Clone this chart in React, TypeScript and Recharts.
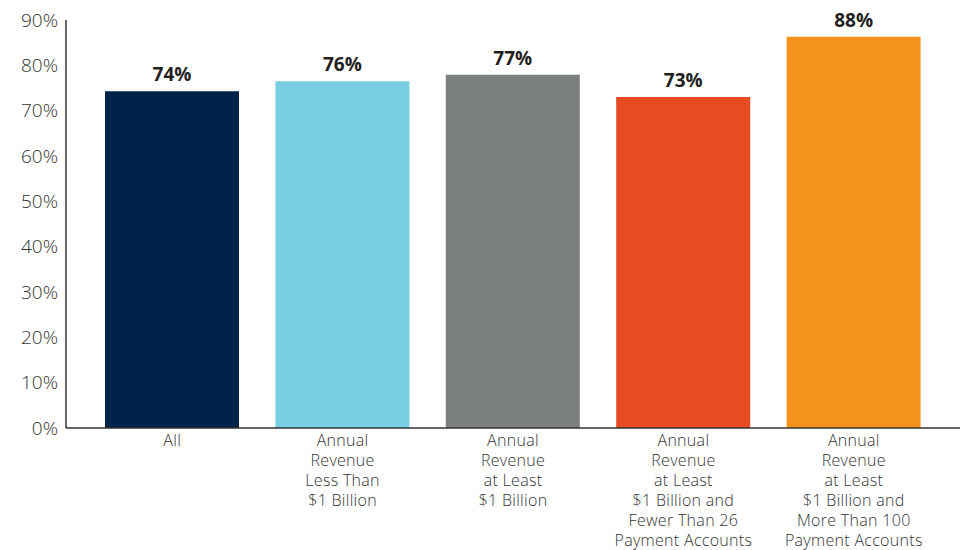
import { BarChart, Bar, XAxis, YAxis, Cell, LabelList } from "recharts";

const categories = [
  "All",
  "Annual\nRevenue\nLess Than\n$1 Billion",
  "Annual\nRevenue\nat Least\n$1 Billion",
  "Annual\nRevenue\nat Least\n$1 Billion and\nFewer Than 26\nPayment Accounts",
  "Annual\nRevenue\nat Least\n$1 Billion and\nMore Than 100\nPayment Accounts",
];
const values = [74.3, 76.5, 77.9, 73.0, 86.3];
const valueLabels = ["74%", "76%", "77%", "73%", "88%"];
const barColors = ["#00234a", "#79cfe2", "#7b807f", "#e64b22", "#f5921e"];
const yTicks = [0, 10, 20, 30, 40, 50, 60, 70, 80, 90];

const data = categories.map((name, i) => ({
  name,
  value: values[i],
  label: valueLabels[i],
}));

const FONT = "'Open Sans', sans-serif";

function CategoryTick(props: any) {
  const { x, y, payload } = props;
  const lines = String(payload.value).split("\n");
  return (
    <text
      x={x}
      y={y}
      textAnchor="middle"
      fill="#333333"
      fontSize={16}
      fontFamily={FONT}
      fontWeight={300}
      letterSpacing={0.3}
    >
      {lines.map((line, i) => (
        <tspan key={i} x={x} dy={i === 0 ? "0.62em" : 20}>
          {line}
        </tspan>
      ))}
    </text>
  );
}

export default function App() {
  return (
    <div style={{ position: "absolute", left: 0, top: 0, background: "#fff" }}>
      <BarChart
        width={960}
        height={550}
        data={data}
        margin={{ top: 20, right: 0, bottom: 0, left: 0 }}
      >
        <XAxis
          dataKey="name"
          interval={0}
          height={122}
          tick={<CategoryTick />}
          tickLine={false}
          axisLine={{ stroke: "#333333", strokeWidth: 1.5 }}
          padding={{ left: 21, right: 21 }}
        />
        <YAxis
          width={66}
          domain={[0, 90]}
          ticks={yTicks}
          tickFormatter={(v) => `${v}%`}
          tickLine={false}
          axisLine={{ stroke: "#333333", strokeWidth: 1.5 }}
          tick={{ fontSize: 19, fill: "#333333", fontFamily: FONT, fontWeight: 300 }}
        />
        <Bar dataKey="value" barSize={134} isAnimationActive={false}>
          {data.map((d, i) => (
            <Cell key={d.name} fill={barColors[i]} />
          ))}
          <LabelList
            dataKey="label"
            position="top"
            offset={10}
            fill="#231f20"
            fontSize={19}
            fontWeight={700}
            fontFamily={FONT}
          />
        </Bar>
      </BarChart>
    </div>
  );
}
